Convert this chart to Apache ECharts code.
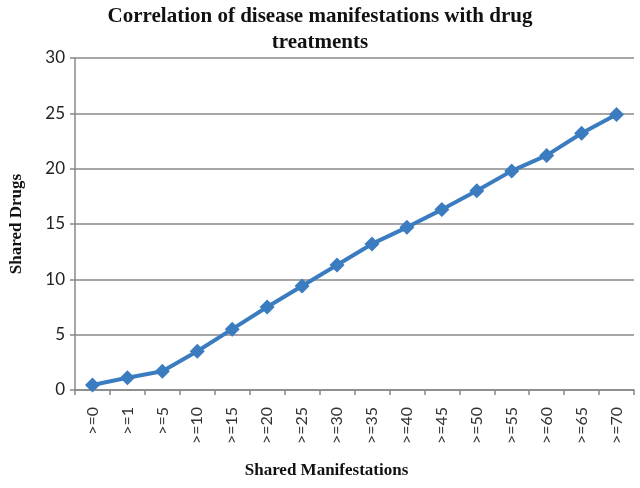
<!DOCTYPE html>
<html><head><meta charset="utf-8">
<script src="https://cdn.jsdelivr.net/npm/echarts@6/dist/echarts.min.js"></script>
<style>html,body{margin:0;padding:0;background:#fff}#c{width:640px;height:488px}</style>
</head><body><div id="c"></div>
<script>
var categories = ['>=0','>=1','>=5','>=10','>=15','>=20','>=25','>=30','>=35','>=40','>=45','>=50','>=55','>=60','>=65','>=70'];
var sharedDrugs = [0.45,1.1,1.7,3.5,5.5,7.5,9.4,11.3,13.2,14.7,16.3,18.0,19.8,21.2,23.2,24.9];
var yTicks = [0,5,10,15,20,25,30];

var chart = echarts.init(document.getElementById('c'));
chart.setOption({
  animation:false,
  backgroundColor:'#fff',
  title:{
    text:'Correlation of disease manifestations with drug\ntreatments',
    left:'center', top:-1,
    textStyle:{fontFamily:'Liberation Serif',fontWeight:'bold',fontSize:21,color:'#111',lineHeight:26}
  },
  grid:{left:73,right:6,top:58,bottom:98},
  xAxis:{
    type:'category', data:categories, boundaryGap:true,
    name:'Shared Manifestations', nameLocation:'middle', nameGap:72,
    nameTextStyle:{fontFamily:'Liberation Serif',fontWeight:'bold',fontSize:17,color:'#111',padding:[0,56,0,0]},
    axisLine:{lineStyle:{color:'#888',width:1.5}},
    axisTick:{show:true,length:5,lineStyle:{color:'#888',width:1.5}},
    axisLabel:{rotate:90,margin:17,fontFamily:'Lato',fontSize:16,color:'#333'}
  },
  yAxis:{
    type:'value', min:0, max:30, interval:5,
    name:'Shared Drugs', nameLocation:'middle', nameGap:50,
    nameTextStyle:{fontFamily:'Liberation Serif',fontWeight:'bold',fontSize:17,color:'#111'},
    axisLine:{show:true,lineStyle:{color:'#888',width:1.5}},
    axisTick:{show:true,length:5,lineStyle:{color:'#888',width:1.5}},
    splitLine:{lineStyle:{color:'#888',width:1.5}},
    axisLabel:{margin:10,fontFamily:'Lato',fontSize:17,color:'#222',
      formatter:function(v){return yTicks.indexOf(v)>=0?String(v):'';}}
  },
  series:[{
    type:'line', data:sharedDrugs,
    symbol:'diamond', symbolSize:15,
    lineStyle:{color:'#3a7cbf',width:4},
    itemStyle:{color:'#3a7cbf'}
  }]
});
</script></body></html>
